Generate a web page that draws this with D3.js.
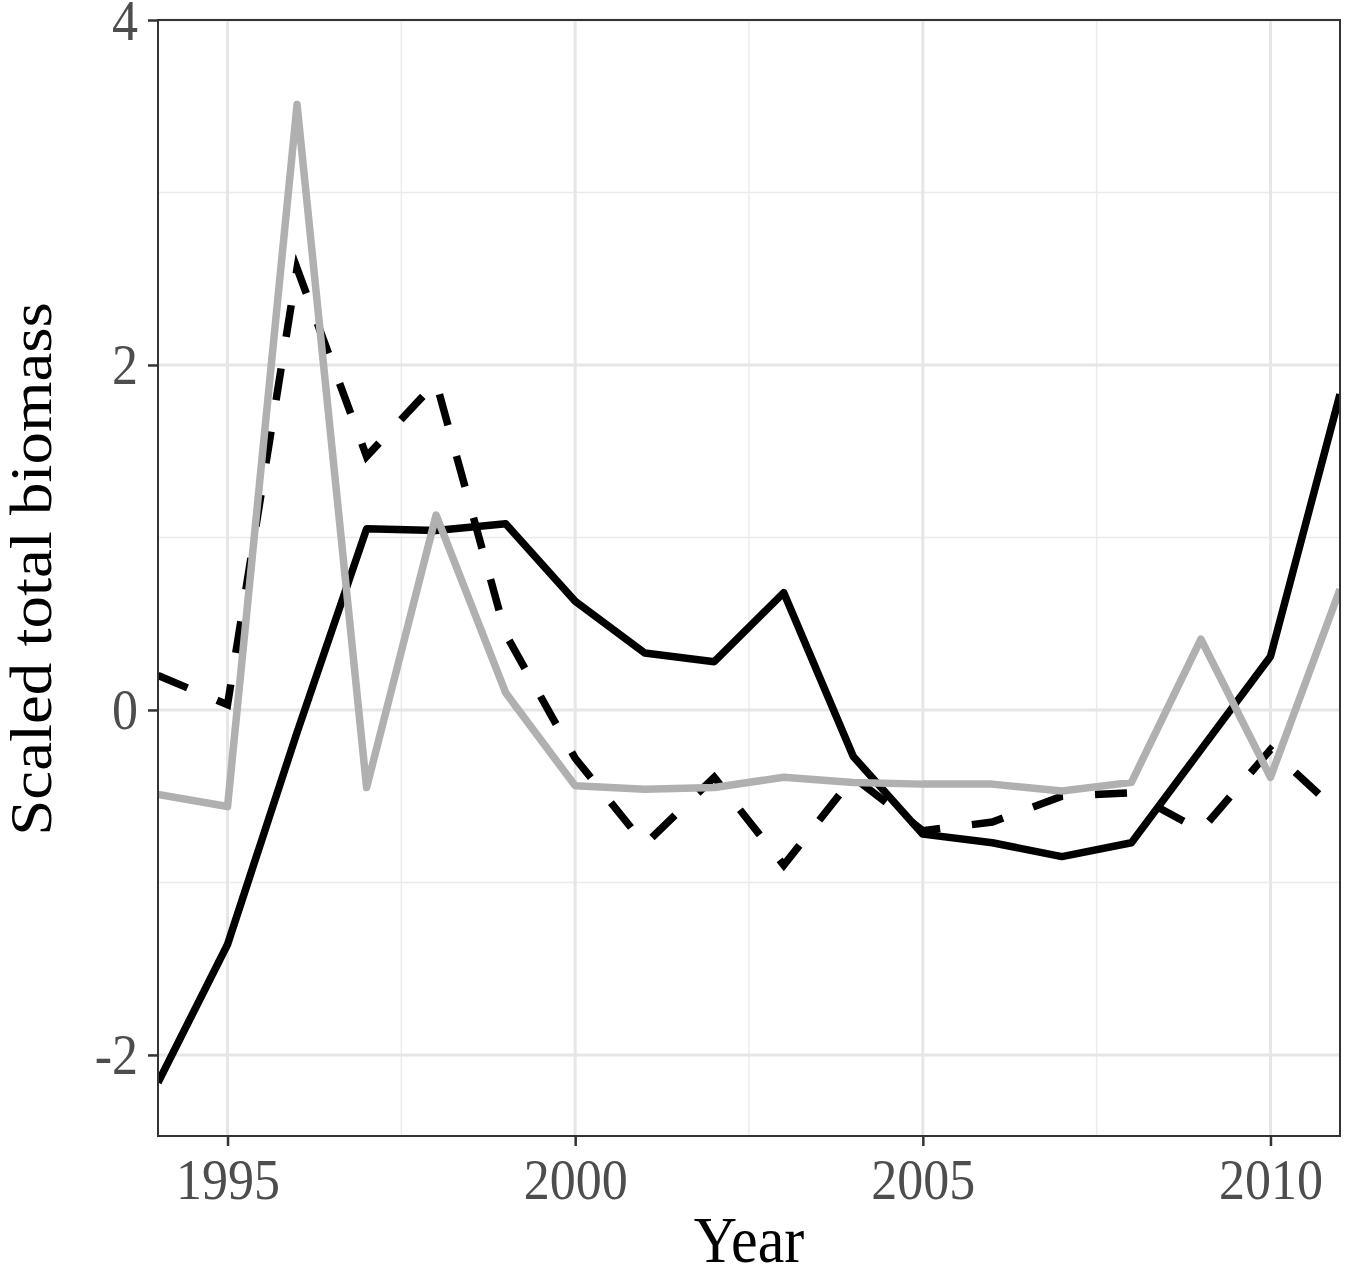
<!DOCTYPE html>
<html>
<head>
<meta charset="utf-8">
<script src="https://cdn.jsdelivr.net/npm/d3@7"></script>
<style>
  body { margin: 0; background: #fff; }
  svg { display: block; font-family: "Liberation Serif", "DejaVu Serif", serif; }
</style>
</head>
<body>
<svg width="1350" height="1272"></svg>
<script>
var years = [1994, 1995, 1996, 1997, 1998, 1999, 2000, 2001, 2002, 2003, 2004, 2005, 2006, 2007, 2008, 2009, 2010, 2011];

var solidValues  = [-2.16, -1.36, -0.13, 1.05, 1.04, 1.08, 0.63, 0.33, 0.28, 0.68, -0.27, -0.72, -0.77, -0.85, -0.77, -0.23, 0.31, 1.83];
var dashedValues = [0.20, 0.03, 2.56, 1.47, 1.90, 0.44, -0.28, -0.78, -0.39, -0.90, -0.39, -0.70, -0.65, -0.50, -0.48, -0.70, -0.23, -0.60];
var greyValues   = [-0.49, -0.56, 3.51, -0.45, 1.13, 0.10, -0.44, -0.46, -0.45, -0.39, -0.42, -0.43, -0.43, -0.47, -0.42, 0.41, -0.39, 0.70];

var xTicks = [1995, 2000, 2005, 2010];
var xMinor = [1997.5, 2002.5, 2007.5];
var yTicks = [-2, 0, 2, 4];
var yMinor = [-1, 1, 3];

var width = 1350;
var height = 1272;
var margin = {left: 158, top: 20, right: 10, bottom: 136};

var x = d3.scaleLinear().domain([1994, 2011]).range([margin.left, width - margin.right]);
var y = d3.scaleLinear().domain([-2.47, 4]).range([height - margin.bottom, margin.top]);

var svg = d3.select("svg");

// grid, minor first
svg.selectAll(".xminor").data(xMinor).enter().append("line")
  .attr("x1", x).attr("x2", x)
  .attr("y1", y.range()[0]).attr("y2", y.range()[1])
  .attr("stroke", "#ebebeb").attr("stroke-width", 1.5);
svg.selectAll(".yminor").data(yMinor).enter().append("line")
  .attr("y1", y).attr("y2", y)
  .attr("x1", x.range()[0]).attr("x2", x.range()[1])
  .attr("stroke", "#ebebeb").attr("stroke-width", 1.5);
svg.selectAll(".xmajor").data(xTicks).enter().append("line")
  .attr("x1", x).attr("x2", x)
  .attr("y1", y.range()[0]).attr("y2", y.range()[1])
  .attr("stroke", "#e6e6e6").attr("stroke-width", 3);
svg.selectAll(".ymajor").data(yTicks).enter().append("line")
  .attr("y1", y).attr("y2", y)
  .attr("x1", x.range()[0]).attr("x2", x.range()[1])
  .attr("stroke", "#e6e6e6").attr("stroke-width", 3);

// lines
var line = d3.line()
  .x(function(d, i) { return x(years[i]); })
  .y(function(d) { return y(d); });

svg.append("defs").append("clipPath").attr("id", "panel")
  .append("rect")
  .attr("x", margin.left).attr("y", margin.top)
  .attr("width", width - margin.left - margin.right)
  .attr("height", height - margin.top - margin.bottom);

var lines = svg.append("g").attr("clip-path", "url(#panel)");

lines.append("path").datum(solidValues)
  .attr("d", line)
  .attr("fill", "none").attr("stroke", "#000").attr("stroke-width", 7.5)
  .attr("stroke-linejoin", "round");

lines.append("path").datum(dashedValues)
  .attr("d", line)
  .attr("fill", "none").attr("stroke", "#000").attr("stroke-width", 7.5)
  .attr("stroke-dasharray", "32,32");

lines.append("path").datum(greyValues)
  .attr("d", line)
  .attr("fill", "none").attr("stroke", "#b0b0b0").attr("stroke-width", 7.5)
  .attr("stroke-linejoin", "round");

// panel border
svg.append("rect")
  .attr("x", margin.left).attr("y", margin.top)
  .attr("width", width - margin.left - margin.right)
  .attr("height", height - margin.top - margin.bottom)
  .attr("fill", "none").attr("stroke", "#333").attr("stroke-width", 2);

// axes
var axisBottom = d3.axisBottom(x).tickValues(xTicks).tickSize(10).tickFormat(function(d) { return String(d); });
var axisLeft = d3.axisLeft(y).tickValues(yTicks).tickSize(10).tickFormat(function(d) { return String(d); });

var gx = svg.append("g")
  .attr("transform", "translate(0," + (height - margin.bottom) + ")")
  .call(axisBottom);
var gy = svg.append("g")
  .attr("transform", "translate(" + margin.left + ",0)")
  .call(axisLeft);

[gx, gy].forEach(function(g) {
  g.attr("font-family", null).attr("font-size", null);
  g.select(".domain").remove();
  g.selectAll(".tick line").attr("stroke", "#333").attr("stroke-width", 2.5);
  g.selectAll(".tick text")
    .attr("fill", "#4d4d4d")
    .attr("font-size", 52)
    .attr("x", 0).attr("y", 0).attr("dy", null);
});

gx.selectAll(".tick text")
  .attr("text-anchor", "middle")
  .attr("transform", "translate(0,63) scale(1,1.1)");

gy.selectAll(".tick text")
  .attr("text-anchor", "end")
  .attr("transform", "translate(-20,19) scale(1,1.08)");

// text label for the x axis
svg.append("text")
  .attr("transform", "translate(" + ((margin.left + width - margin.right) / 2) + ",1262) scale(1,1.1)")
  .attr("text-anchor", "middle")
  .attr("font-size", 60)
  .attr("fill", "#000")
  .text("Year");

// text label for the y axis
svg.append("text")
  .attr("transform", "translate(51," + ((margin.top + height - margin.bottom) / 2 - 9) + ") rotate(-90) scale(1.1,1)")
  .attr("text-anchor", "middle")
  .attr("font-size", 59)
  .attr("fill", "#000")
  .text("Scaled total biomass");
</script>
</body>
</html>
